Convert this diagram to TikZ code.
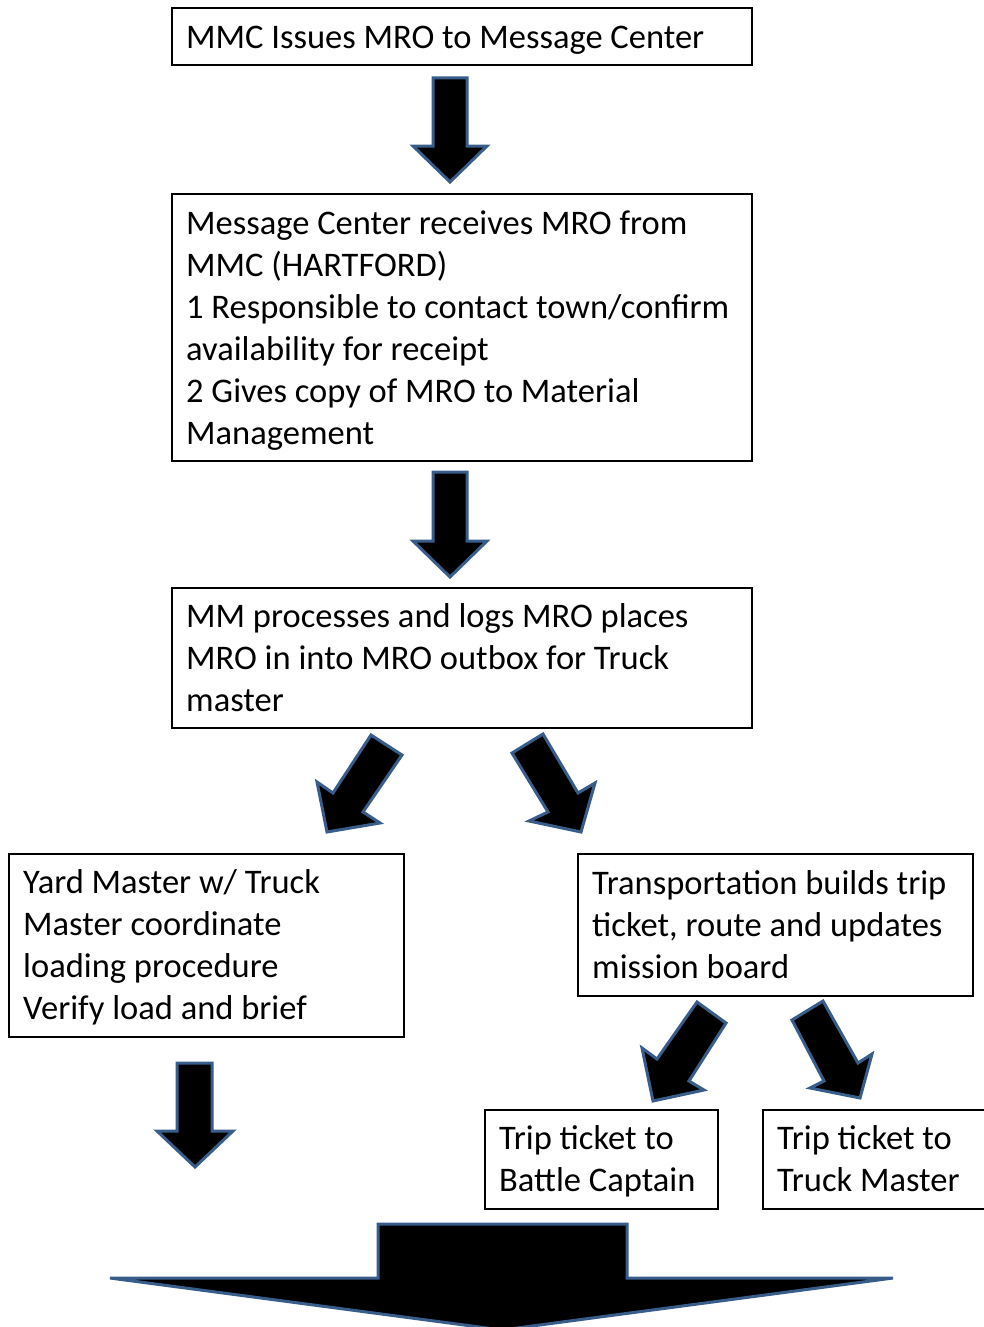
\documentclass[tikz,border=0pt]{standalone}
\usepackage{fontspec}
\setmainfont{Carlito}
\definecolor{arrowblue}{RGB}{56,93,138}
\begin{document}
\begin{tikzpicture}[x=1pt,y=-1pt,
  box/.style={draw=black,line width=2pt,fill=white,anchor=north west,inner sep=0pt},
  txt/.style={anchor=west,align=left,inner sep=0pt,font=\fontsize{34.5}{42}\selectfont},
  blockarrow/.style={draw=arrowblue,fill=black,line width=3pt,line join=miter}]
\useasboundingbox (0,0) rectangle (984,1327);
\clip (0,0) rectangle (984,1327);

% boxes
\node[box,minimum width=580pt,minimum height=57pt] (b1) at (171,7) {};
\node[txt] (t1) at ([xshift=15pt,yshift=-3.5pt]b1.west) {\strut MMC Issues MRO to Message Center\strut};

\node[box,minimum width=580pt,minimum height=267pt] (b2) at (171,193) {};
\node[txt] (t2) at ([xshift=15pt,yshift=-3.5pt]b2.west) {\strut Message Center receives MRO from\\MMC (HARTFORD)\\1 Responsible to contact town/confirm\\availability for receipt\\2 Gives copy of MRO to Material\\Management\strut};

\node[box,minimum width=580pt,minimum height=140pt] (b3) at (171,587) {};
\node[txt] (t3) at ([xshift=15pt,yshift=-3pt]b3.west) {\strut MM processes and logs MRO places\\MRO in into MRO outbox for Truck\\master\strut};

\node[box,minimum width=395pt,minimum height=183pt] (b4) at (8,853) {};
\node[txt] (t4) at ([xshift=15pt,yshift=-3pt]b4.west) {\strut Yard Master w/ Truck\\Master coordinate\\loading procedure\\Verify load and brief\strut};

\node[box,minimum width=395pt,minimum height=142pt] (b5) at (577,853) {};
\node[txt] (t5) at ([xshift=15pt,yshift=-3.5pt]b5.west) {\strut Transportation builds trip\\ticket, route and updates\\mission board\strut};

\node[box,minimum width=233pt,minimum height=99pt] (b6) at (484,1109) {};
\node[txt] (t6) at ([xshift=15pt,yshift=-3pt]b6.west) {\strut Trip ticket to\\Battle Captain\strut};

\node[box,minimum width=240pt,minimum height=99pt] (b7) at (762,1109) {};
\node[txt] (t7) at ([xshift=15pt,yshift=-3pt]b7.west) {\strut Trip ticket to\\Truck Master\strut};

% vertical block arrows
\draw[blockarrow] (433,78) -- (467,78) -- (467,146) -- (487,146) -- (450,182) -- (413,146) -- (433,146) -- cycle;
\draw[blockarrow] (433,472) -- (467,472) -- (467,541) -- (487,541) -- (450,577) -- (413,541) -- (433,541) -- cycle;
\draw[blockarrow] (177,1063) -- (212,1063) -- (212,1131) -- (233,1131) -- (195,1167) -- (157,1131) -- (177,1131) -- cycle;

% diagonal block arrows
\draw[blockarrow] (371,735) -- (402,755) -- (363,812) -- (380,823) -- (327,832) -- (317,782) -- (333,793) -- cycle;
\draw[blockarrow] (512,753) -- (543,734) -- (578,793) -- (595,783) -- (581,832) -- (529,821) -- (548,812) -- cycle;
\draw[blockarrow] (697,1002) -- (726,1023) -- (689,1081) -- (704,1090) -- (653,1101) -- (642,1048) -- (657,1059) -- cycle;
\draw[blockarrow] (792,1020) -- (823,1001) -- (858,1063) -- (872,1054) -- (860,1098) -- (810,1088) -- (824,1081) -- cycle;

% big bottom arrow
\draw[blockarrow] (378,1224) -- (627,1224) -- (627,1278) -- (893,1278) -- (502,1330) -- (110,1278) -- (378,1278) -- cycle;
\end{tikzpicture}
\end{document}
